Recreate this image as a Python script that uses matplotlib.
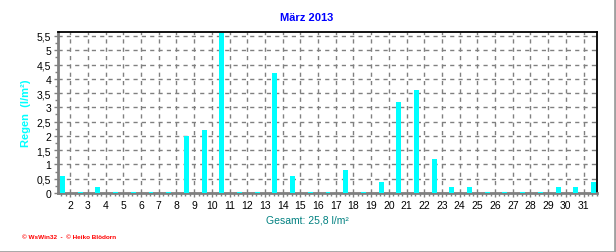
import matplotlib
matplotlib.use("Agg")
import matplotlib.pyplot as plt
from matplotlib.lines import Line2D
from matplotlib.ticker import AutoMinorLocator
import numpy as np

plt.rcParams['font.family'] = ['Liberation Sans', 'DejaVu Sans']

days = list(range(1, 32))
rain = [0.6, 0.0, 0.2, 0.0, 0.0, 0.0, 0.0, 2.0, 2.2, 5.6,
        0.0, 0.0, 4.2, 0.6, 0.0, 0.0, 0.8, 0.0, 0.4, 3.2,
        3.6, 1.2, 0.2, 0.2, 0.0, 0.0, 0.0, 0.0, 0.2, 0.2, 0.4]
tick_labels = [str(d) for d in range(2, 32)]
y_ticks = [0, 0.5, 1, 1.5, 2, 2.5, 3, 3.5, 4, 4.5, 5, 5.5]
title = "März 2013"
ylabel = "Regen  (l/m²)"
total_text = "Gesamt: 25,8 l/m²"
footer = "© WsWin32  -  © Heiko Blödorn"

W, H = 616, 253
fig = plt.figure(figsize=(W / 100, H / 100), dpi=100)
ax = fig.add_axes([58 / W, (H - 194) / H, 539 / W, 161 / H])

x = np.arange(len(days))
vals = np.array(rain)
cyan = '#00FFFF'
ax.bar(x, vals, width=0.28, color=cyan, zorder=3, linewidth=0)
zero = vals == 0
ax.bar(x[zero], vals[zero], width=0.28, color=cyan, edgecolor=cyan,
       linewidth=1.5, zorder=3)

ax.set_xlim(-0.254, 30.2)
ax.set_ylim(0, 5.64)

xt = np.arange(len(tick_labels)) + 0.44
ax.set_xticks(xt)
ax.set_xticklabels(tick_labels, fontsize=7.5)
ax.set_yticks(y_ticks)
ax.set_yticklabels([("%g" % v).replace('.', ',') for v in y_ticks], fontsize=7.5)
ax.xaxis.set_minor_locator(AutoMinorLocator(4))
ax.yaxis.set_minor_locator(AutoMinorLocator(2))

ax.grid(True, which='major', color='#808080', linestyle=(0, (3, 3)), linewidth=1, zorder=1)
ax.set_axisbelow(True)

for s in ['top', 'right']:
    ax.spines[s].set_color('black')
    ax.spines[s].set_linewidth(1.3)
for s in ['left', 'bottom']:
    ax.spines[s].set_color('#808080')
    ax.spines[s].set_linewidth(2)
ax.tick_params(axis='both', which='major', length=3, width=1, color='#808080', pad=2)
ax.tick_params(axis='both', which='minor', length=2, width=1, color='#808080')

fig.text(307 / W, 1 - 18 / H, title, ha='center', va='center',
         color='#0000FF', fontsize=8, fontweight='bold')
fig.text(26 / W, 1 - 113 / H, ylabel, ha='center', va='center', rotation=90,
         color=cyan, fontsize=8, fontweight='bold')
fig.text(307 / W, 1 - 221 / H, total_text, ha='center', va='center',
         color='#008080', fontsize=7.5)
fig.text(22 / W, 1 - 238 / H, footer, ha='left', va='center',
         color='#FF0000', fontsize=4.6, fontweight='bold')

fig.add_artist(Line2D([0, 1], [0.5 / H, 0.5 / H], color='#a0a0a0', linewidth=2,
                      transform=fig.transFigure))
fig.add_artist(Line2D([1 - 1.5 / W, 1 - 1.5 / W], [0, 1], color='#a0a0a0', linewidth=2,
                      transform=fig.transFigure))

fig.savefig('out.png', dpi=100)
